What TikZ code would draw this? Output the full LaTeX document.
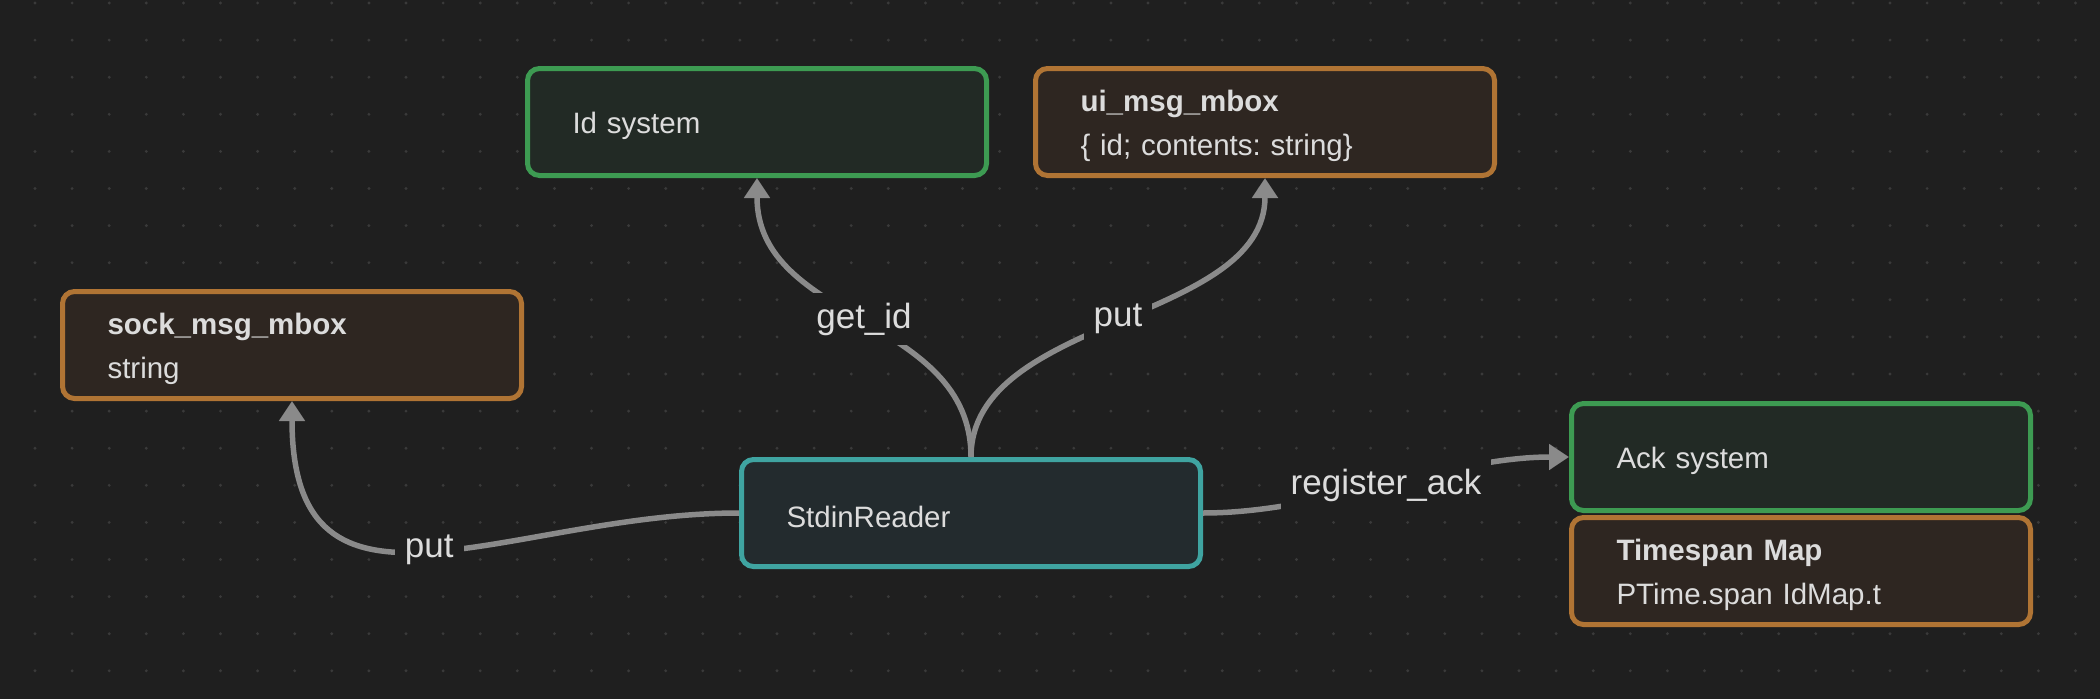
\documentclass[tikz,border=0pt]{standalone}
\usepackage{fontspec}
\setmainfont{Liberation Sans}
\usetikzlibrary{arrows.meta,positioning}
\definecolor{bgcol}{HTML}{1F1F1F}
\definecolor{dotcol}{HTML}{3A3A3A}
\definecolor{txtcol}{HTML}{DCDCDC}
\definecolor{linkcol}{HTML}{8A8A8A}
\definecolor{greenline}{HTML}{3D9B52}
\definecolor{greenfill}{HTML}{222A25}
\definecolor{orangeline}{HTML}{B07434}
\definecolor{orangefill}{HTML}{2E2621}
\definecolor{tealline}{HTML}{3FA4A1}
\definecolor{tealfill}{HTML}{232B2E}
\frenchspacing
\tikzset{
	box/.style={rectangle, rounded corners=12pt, line width=5pt, minimum width=459pt, minimum height=107pt,
		text width=369pt, inner xsep=45pt, inner ysep=0pt, align=left, text=txtcol,
		font=\fontsize{29.5}{44}\selectfont, execute at begin node={\rule{0pt}{28.5pt}}},
	greenbox/.style={box, draw=greenline, fill=greenfill},
	orangebox/.style={box, draw=orangeline, fill=orangefill},
	tealbox/.style={box, draw=tealline, fill=tealfill},
	link/.style={draw=linkcol, line width=5.5pt, -{Triangle[width=25pt,length=20pt]}},
	linklabel/.style={fill=bgcol, inner sep=10pt, text=txtcol, font=\fontsize{35}{42}\selectfont}
}

\begin{document}
\begin{tikzpicture}[x=1pt,y=-1pt]
			%%%%% START %%%%%
			
			\useasboundingbox (0,0) rectangle (2100,699);
			\fill[bgcol] (0,0) rectangle (2100,699);
			\foreach \i in {0,...,55}
				\foreach \j in {0,...,18}
					\fill[dotcol] (35+37.1*\i, 3+37.1*\j) circle (1.6);
			
			\node[greenbox] (idsys) at (757,122) {Id system};
			\node[orangebox] (uimbox) at (1265,122) {\textbf{ui\_msg\_mbox}\\\{ id; contents: string\}};
			\node[orangebox] (sockmbox) at (292,345) {\textbf{sock\_msg\_mbox}\\string};
			\node[tealbox] (reader) at (971,513) {StdinReader};
			\node[greenbox] (acksys) at (1801,457) {Ack system};
			\node[orangebox, below=2pt of acksys] (tspanmap) {\textbf{Timespan Map}\\PTime.span IdMap.t};
			
			\draw[link] (reader.north) .. controls +(0,-141) and +(0,145) .. (idsys.south)
				node[linklabel, midway] (lblgetid) {get\_id};
			\draw[link] (reader.north) .. controls +(0,-141) and +(0,145) .. (uimbox.south)
				node[linklabel, midway] (lblputui) {put};
			\draw[link] (reader.west) .. controls +(-230,0) and +(0,247) .. (sockmbox.south)
				node[linklabel, midway] (lblputsock) {put};
			\draw[link] (reader.east) .. controls +(120,0) and +(-120,0) .. (acksys.west)
				node[linklabel, midway] (lblack) {register\_ack};
			
			%%%%% END %%%%%
\end{tikzpicture}
\end{document}
